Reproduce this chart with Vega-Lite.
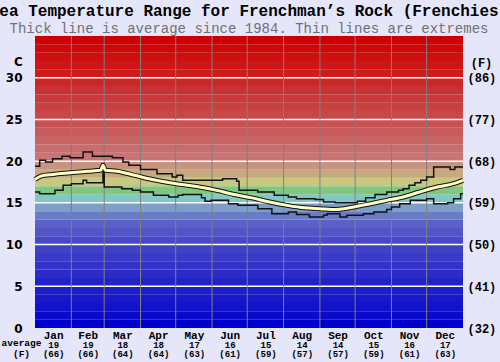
{
  "$schema": "https://vega.github.io/schema/vega-lite/v6.json",
  "width": 428,
  "height": 292,
  "autosize": "none",
  "padding": {"left": 35, "top": 36, "right": 37, "bottom": 34},
  "background": "#e6e6fa",
  "config": {"view": {"stroke": null}},
  "title": {
    "text": "Sea Temperature Range for Frenchman’s Rock (Frenchies)",
    "subtitle": "Thick line is average since 1984. Thin lines are extremes",
    "font": "Liberation Mono", "fontSize": 16, "fontWeight": "bold", "color": "#000000",
    "subtitleFont": "Liberation Mono", "subtitleFontSize": 14, "subtitleColor": "#707070",
    "subtitlePadding": 3, "offset": 0, "anchor": "middle"
  },
  "datasets": {
    "bands": [
      {"lo":0,"hi":1},{"lo":1,"hi":2},{"lo":2,"hi":3},{"lo":3,"hi":4},{"lo":4,"hi":5},
      {"lo":5,"hi":6},{"lo":6,"hi":7},{"lo":7,"hi":8},{"lo":8,"hi":9},{"lo":9,"hi":10},
      {"lo":10,"hi":11},{"lo":11,"hi":12},{"lo":12,"hi":13},{"lo":13,"hi":14},{"lo":14,"hi":15},
      {"lo":15,"hi":16},{"lo":16,"hi":17},{"lo":17,"hi":18},{"lo":18,"hi":19},{"lo":19,"hi":20},
      {"lo":20,"hi":21},{"lo":21,"hi":22},{"lo":22,"hi":23},{"lo":23,"hi":24},{"lo":24,"hi":25},
      {"lo":25,"hi":26},{"lo":26,"hi":27},{"lo":27,"hi":28},{"lo":28,"hi":29},{"lo":29,"hi":30},
      {"lo":30,"hi":31},{"lo":31,"hi":32},{"lo":32,"hi":33},{"lo":33,"hi":34},{"lo":34,"hi":35}
    ],
    "hgrid": [{"t":5},{"t":10},{"t":15},{"t":20},{"t":25},{"t":30}],
    "vgrid": [{"day":31},{"day":59},{"day":90},{"day":120},{"day":151},{"day":181},{"day":212},{"day":243},{"day":273},{"day":304},{"day":334}],
    "maxs": [
      {"day":0,"t":19.4},{"day":4,"t":20.1},{"day":9,"t":19.9},{"day":15,"t":20.3},{"day":23,"t":20.6},
      {"day":30,"t":20.4},{"day":41,"t":21.1},{"day":49,"t":20.6},{"day":60,"t":20.6},{"day":66,"t":20.4},
      {"day":75,"t":19.9},{"day":80,"t":19.5},{"day":90,"t":19.0},{"day":104,"t":18.5},{"day":117,"t":18.1},
      {"day":121,"t":18.3},{"day":126,"t":17.7},{"day":160,"t":17.9},{"day":172,"t":17.6},{"day":174,"t":16.5},
      {"day":190,"t":16.3},{"day":204,"t":15.9},{"day":216,"t":15.7},{"day":223,"t":15.5},{"day":239,"t":15.4},
      {"day":246,"t":15.1},{"day":256,"t":15.0},{"day":275,"t":15.2},{"day":282,"t":15.6},{"day":290,"t":16.0},
      {"day":300,"t":16.3},{"day":310,"t":16.5},{"day":314,"t":16.7},{"day":319,"t":17.1},{"day":324,"t":17.4},
      {"day":329,"t":17.7},{"day":334,"t":18.1},{"day":340,"t":19.3},{"day":354,"t":19.0},{"day":358,"t":19.3},
      {"day":365,"t":19.3}
    ],
    "mins": [
      {"day":0,"t":16.3},{"day":4,"t":16.1},{"day":17,"t":16.5},{"day":24,"t":17.1},{"day":31,"t":17.3},
      {"day":41,"t":17.7},{"day":44,"t":17.4},{"day":58,"t":18.8},{"day":59,"t":16.9},{"day":74,"t":16.7},
      {"day":83,"t":16.5},{"day":90,"t":16.3},{"day":101,"t":15.9},{"day":114,"t":15.7},{"day":122,"t":15.9},
      {"day":126,"t":16.0},{"day":142,"t":15.6},{"day":145,"t":15.2},{"day":150,"t":15.3},{"day":165,"t":14.9},
      {"day":173,"t":14.7},{"day":190,"t":14.3},{"day":202,"t":13.7},{"day":216,"t":13.9},{"day":223,"t":13.6},
      {"day":234,"t":13.3},{"day":246,"t":13.5},{"day":249,"t":13.7},{"day":260,"t":13.3},{"day":266,"t":13.5},
      {"day":280,"t":13.7},{"day":289,"t":13.9},{"day":300,"t":14.2},{"day":304,"t":14.5},{"day":311,"t":14.9},
      {"day":320,"t":15.3},{"day":334,"t":15.5},{"day":340,"t":14.9},{"day":352,"t":15.0},{"day":357,"t":15.5},
      {"day":363,"t":16.1},{"day":365,"t":16.1}
    ],
    "avgs": [
      {"day":0,"t":17.8},{"day":5,"t":18.2},{"day":15,"t":18.4},{"day":30,"t":18.6},{"day":45,"t":18.8},
      {"day":56,"t":18.9},{"day":58,"t":19.5},{"day":60,"t":18.9},{"day":70,"t":18.8},{"day":85,"t":18.3},
      {"day":100,"t":17.8},{"day":115,"t":17.4},{"day":125,"t":17.2},{"day":140,"t":16.9},{"day":155,"t":16.5},
      {"day":170,"t":16.0},{"day":185,"t":15.6},{"day":200,"t":15.1},{"day":215,"t":14.7},{"day":230,"t":14.4},
      {"day":243,"t":14.3},{"day":257,"t":14.2},{"day":272,"t":14.5},{"day":286,"t":14.9},{"day":300,"t":15.3},
      {"day":314,"t":15.7},{"day":328,"t":16.3},{"day":343,"t":16.9},{"day":357,"t":17.3},{"day":365,"t":17.7}
    ]
  },
  "layer": [
    {
      "data": {"name": "bands"},
      "mark": {"type": "rect"},
      "encoding": {
        "y": {"field": "lo", "type": "quantitative", "scale": {"domain": [0, 35], "nice": false, "zero": true},
          "axis": {"orient": "left", "values": [0,5,10,15,20,25,30], "grid": false, "ticks": false, "domain": false,
            "labelFont": "DejaVu Sans", "labelFontWeight": "bold", "labelFontSize": 12, "labelColor": "#000000", "labelPadding": 13,
            "title": "C", "titleAngle": 0, "titleX": -17, "titleY": 25, "titleAlign": "center", "titleBaseline": "middle",
            "titleFont": "DejaVu Sans", "titleFontSize": 12, "titleFontWeight": "bold", "titleColor": "#000000"}},
        "y2": {"field": "hi"},
        "color": {"field": "lo", "type": "quantitative", "legend": null,
          "scale": {"domain": [0,5,10,12,13,14,15,16,17,18,19,20,22,25,28,30,34],
            "range": ["#0000cc","#2222c8","#4848c8","#5a62c8","#6a7cc8","#7c9ec8","#80c8c8","#80c880","#c8c880","#c8a880","#c89480","#c87474","#c86464","#c84848","#c83232","#cc1c1c","#cc0000"]}}
      }
    },
    {
      "data": {"name": "hgrid"},
      "mark": {"type": "rule", "color": "#ffffff", "strokeWidth": 1.5},
      "encoding": {
        "y": {"field": "t", "type": "quantitative",
          "axis": {"orient": "right", "values": [0,5,10,15,20,25,30], "grid": false, "ticks": false, "domain": false,
            "labelExpr": "'(' + format(datum.value*9/5+32, 'd') + ')'",
            "labelFont": "Liberation Mono", "labelFontWeight": "bold", "labelFontSize": 12, "labelColor": "#000000", "labelPadding": 4,
            "title": "(F)", "titleAngle": 0, "titleX": 18, "titleY": 26, "titleAlign": "center", "titleBaseline": "middle",
            "titleFont": "Liberation Mono", "titleFontSize": 12, "titleFontWeight": "bold", "titleColor": "#000000"}}
      }
    },
    {
      "data": {"name": "vgrid"},
      "mark": {"type": "rule", "color": "#808080", "strokeWidth": 1},
      "encoding": {
        "x": {"field": "day", "type": "quantitative", "scale": {"domain": [0, 365], "nice": false, "zero": false},
          "axis": {"orient": "bottom", "values": [15.5,45,74.5,105,135.5,166,196.5,227.5,258,288.5,319,349.5],
            "labelExpr": "['Jan','Feb','Mar','Apr','May','Jun','Jul','Aug','Sep','Oct','Nov','Dec'][indexof([15.5,45,74.5,105,135.5,166,196.5,227.5,258,288.5,319,349.5], datum.value)]",
            "grid": false, "ticks": false, "domain": false, "labelOverlap": false, "labelFlush": false, "labelBound": false,
            "labelFont": "Liberation Mono", "labelFontWeight": "bold", "labelFontSize": 11, "labelColor": "#000000", "labelPadding": 1, "title": null}}
      }
    },
    {
      "data": {"name": "maxs"},
      "mark": {"type": "line", "color": "#111111", "strokeWidth": 1.5, "interpolate": "step-after"},
      "encoding": {
        "x": {"field": "day", "type": "quantitative",
          "axis": {"orient": "bottom", "values": [15.5,45,74.5,105,135.5,166,196.5,227.5,258,288.5,319,349.5],
            "labelExpr": "['19','19','18','18','17','16','15','14','14','15','16','17'][indexof([15.5,45,74.5,105,135.5,166,196.5,227.5,258,288.5,319,349.5], datum.value)]",
            "grid": false, "ticks": false, "domain": false, "labelOverlap": false, "labelFlush": false, "labelBound": false,
            "labelFont": "Liberation Mono", "labelFontWeight": "bold", "labelFontSize": 9, "labelColor": "#000000", "labelPadding": 12,
            "title": "average", "titleX": -14, "titleY": 17, "titleAlign": "center", "titleBaseline": "alphabetic",
            "titleFont": "Liberation Mono", "titleFontSize": 9.5, "titleFontWeight": "bold", "titleColor": "#000000"}},
        "y": {"field": "t", "type": "quantitative", "axis": null}
      }
    },
    {
      "data": {"name": "mins"},
      "mark": {"type": "line", "color": "#111111", "strokeWidth": 1.5, "interpolate": "step-after"},
      "encoding": {
        "x": {"field": "day", "type": "quantitative",
          "axis": {"orient": "bottom", "values": [15.5,45,74.5,105,135.5,166,196.5,227.5,258,288.5,319,349.5],
            "labelExpr": "['(66)','(66)','(64)','(64)','(63)','(61)','(59)','(57)','(57)','(59)','(61)','(63)'][indexof([15.5,45,74.5,105,135.5,166,196.5,227.5,258,288.5,319,349.5], datum.value)]",
            "grid": false, "ticks": false, "domain": false, "labelOverlap": false, "labelFlush": false, "labelBound": false,
            "labelFont": "Liberation Mono", "labelFontWeight": "bold", "labelFontSize": 9, "labelColor": "#000000", "labelPadding": 21,
            "title": "(F)", "titleX": -14, "titleY": 28, "titleAlign": "center", "titleBaseline": "alphabetic",
            "titleFont": "Liberation Mono", "titleFontSize": 9.5, "titleFontWeight": "bold", "titleColor": "#000000"}},
        "y": {"field": "t", "type": "quantitative", "axis": null}
      }
    },
    {
      "data": {"name": "avgs"},
      "mark": {"type": "line", "color": "#111111", "strokeWidth": 5, "interpolate": "monotone"},
      "encoding": {
        "x": {"field": "day", "type": "quantitative", "axis": null},
        "y": {"field": "t", "type": "quantitative", "axis": null}
      }
    },
    {
      "data": {"name": "avgs"},
      "mark": {"type": "line", "color": "#ffffc0", "strokeWidth": 3, "interpolate": "monotone"},
      "encoding": {
        "x": {"field": "day", "type": "quantitative", "axis": null},
        "y": {"field": "t", "type": "quantitative", "axis": null}
      }
    }
  ],
  "resolve": {"axis": {"x": "independent", "y": "independent"}}
}
